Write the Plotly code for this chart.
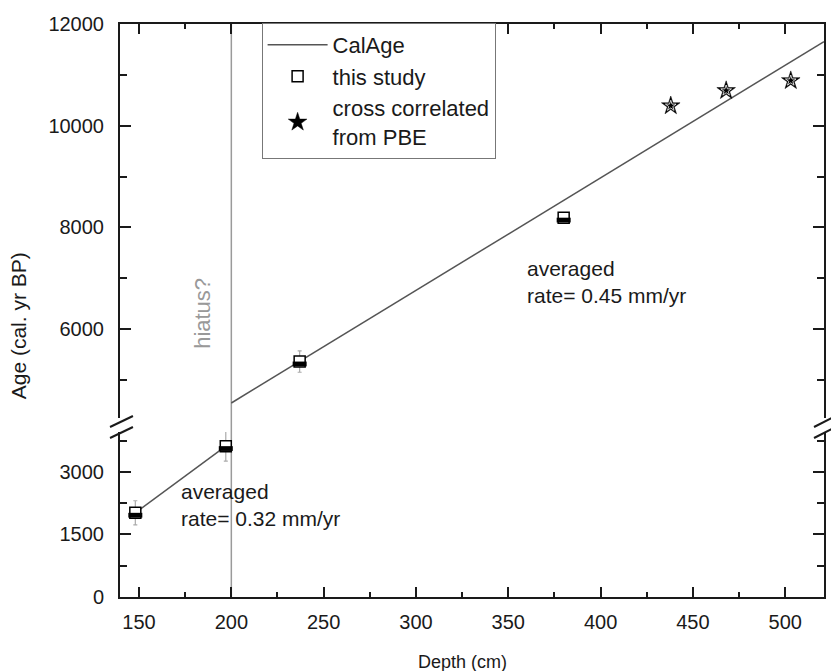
import plotly.graph_objects as go

# ---------------- data ----------------
depth_this = [148, 197, 237, 380]
age_this = [2020, 3620, 5360, 8190]
err_this = [290, 360, 210, 60]

depth_pbe = [438, 468, 503]
age_pbe = [10390, 10690, 10885]

calage_low_depth = [148, 197]
calage_low_age = [2020, 3620]
calage_up_depth = [200, 521]
calage_up_age = [4545, 11655]

hiatus_depth = 200

x_range = [139.7, 521]
low_range = [0, 3960]
up_range = [4250, 12000]
low_ticks = [0, 1500, 3000]
up_ticks = [6000, 8000, 10000, 12000]
x_ticks = [150, 200, 250, 300, 350, 400, 450, 500]

# ---------------- layout geometry ----------------
W, H = 831, 671
ML, MR, MT, MB = 120, 5, 24, 74
PH = H - MT - MB
PW = W - ML - MR
low_dom = [0, 0.288]
up_dom = [0.3124, 1]
px_low = PH * (low_dom[1] - low_dom[0]) / (low_range[1] - low_range[0])
px_up = PH * (up_dom[1] - up_dom[0]) / (up_range[1] - up_range[0])

FONT = "Liberation Sans, Arial, sans-serif"
INK = "#1a1a1a"

lo_idx = [i for i, v in enumerate(age_this) if v < low_range[1]]
hi_idx = [i for i, v in enumerate(age_this) if v >= low_range[1]]

fig = go.Figure()

# CalAge lines
fig.add_trace(go.Scatter(x=calage_low_depth, y=calage_low_age, mode="lines",
                         line=dict(color="#555", width=1.5), name="CalAge",
                         xaxis="x", yaxis="y", showlegend=True))
fig.add_trace(go.Scatter(x=calage_up_depth, y=calage_up_age, mode="lines",
                         line=dict(color="#555", width=1.5), name="CalAge",
                         xaxis="x2", yaxis="y2", showlegend=False))

# this study (white square + black lower half)
for idx, xa, ya, pxu, first in [(lo_idx, "x", "y", px_low, True), (hi_idx, "x2", "y2", px_up, False)]:
    xs = [depth_this[i] for i in idx]
    ys = [age_this[i] for i in idx]
    es = [err_this[i] for i in idx]
    fig.add_trace(go.Scatter(
        x=xs, y=ys, mode="markers", name="this study",
        marker=dict(symbol="square", size=11, color="white", line=dict(color="black", width=1.5)),
        error_y=dict(type="data", array=es, color="#aaaaaa", thickness=1.2, width=2),
        xaxis=xa, yaxis=ya, showlegend=first))
    fig.add_trace(go.Scatter(
        x=xs, y=[v - 2.4 / pxu for v in ys], mode="markers",
        marker=dict(symbol="line-ew", size=10, color="black", line=dict(color="black", width=4.8)),
        xaxis=xa, yaxis=ya, showlegend=False, hoverinfo="skip"))

# cross correlated stars
fig.add_trace(go.Scatter(x=depth_pbe, y=age_pbe, mode="markers",
                         name="cross correlated<br>from PBE",
                         marker=dict(symbol="star", size=14, color="black", line=dict(color="black", width=0.5)),
                         xaxis="x2", yaxis="y2"))
fig.add_trace(go.Scatter(x=depth_pbe, y=age_pbe, mode="markers",
                         marker=dict(symbol="star-open", size=8, color="white", line=dict(color="white", width=0.8)),
                         xaxis="x2", yaxis="y2", showlegend=False, hoverinfo="skip"))

axis_common = dict(showline=True, linecolor=INK, linewidth=2, ticks="inside",
                   tickcolor=INK, tickwidth=2, showgrid=False, zeroline=False,
                   tickformat="d",
                   tickfont=dict(family=FONT, size=20, color=INK))

fig.update_layout(
    width=W, height=H, margin=dict(l=ML, r=MR, t=MT, b=MB),
    paper_bgcolor="white", plot_bgcolor="white",
    font=dict(family=FONT, color=INK),
    xaxis=dict(range=x_range, domain=[0, 1], anchor="y", tickvals=x_ticks, ticklen=10,
               minor=dict(ticks="inside", dtick=25, tick0=150, ticklen=5, tickcolor=INK, tickwidth=2),
               ticklabelstandoff=6, **axis_common),
    xaxis2=dict(range=x_range, domain=[0, 1], anchor="y2", side="top", matches="x",
                showticklabels=False, tickvals=x_ticks, ticklen=10,
                minor=dict(ticks="inside", dtick=25, tick0=150, ticklen=5, tickcolor=INK, tickwidth=2),
                **axis_common),
    yaxis=dict(range=low_range, domain=low_dom, anchor="x", tickvals=low_ticks, ticklen=11,
               mirror="ticks",
               minor=dict(ticks="inside", dtick=750, tick0=0, ticklen=7, tickcolor=INK, tickwidth=2),
               ticklabelstandoff=10, **axis_common),
    yaxis2=dict(range=up_range, domain=up_dom, anchor="x2", tickvals=up_ticks, ticklen=11,
                mirror="ticks",
                minor=dict(ticks="inside", dtick=1000, tick0=0, ticklen=7, tickcolor=INK, tickwidth=2),
                ticklabelstandoff=10, **axis_common),
    legend=dict(x=(262 - ML) / PW, y=1.002, xanchor="left", yanchor="top",
                bgcolor="white", bordercolor="#777", borderwidth=1,
                font=dict(family=FONT, size=22, color=INK), itemwidth=60,
                tracegroupgap=0),
    showlegend=True,
)

# hiatus vertical line
fig.add_shape(type="line", xref="x", yref="paper", x0=hiatus_depth, x1=hiatus_depth, y0=0, y1=1,
              line=dict(color="#9a9a9a", width=1.5), layer="below")

def px2paper_y(py):
    return (H - MB - py) / PH

def px2paper_x(px):
    return (px - ML) / PW

# axis break marks
for (x0, y0, x1, y1) in [(110, 427, 133, 416), (110, 438, 133, 427),
                         (816, 427, 838, 416), (816, 438, 838, 427)]:
    fig.add_shape(type="line", xref="paper", yref="paper",
                  x0=px2paper_x(x0), y0=px2paper_y(y0), x1=px2paper_x(x1), y1=px2paper_y(y1),
                  line=dict(color=INK, width=2))

# annotations
fig.add_annotation(text="hiatus?", x=184.6, y=6316, xref="x2", yref="y2", textangle=-90,
                   showarrow=False, font=dict(family=FONT, size=22, color="#999"))
fig.add_annotation(text="averaged<br>rate= 0.32 mm/yr", x=171.6, y=2856, xref="x", yref="y",
                   xanchor="left", yanchor="top", align="left", showarrow=False,
                   font=dict(family=FONT, size=21, color=INK))
fig.add_annotation(text="averaged<br>rate= 0.45 mm/yr", x=358.8, y=7456, xref="x2", yref="y2",
                   xanchor="left", yanchor="top", align="left", showarrow=False,
                   font=dict(family=FONT, size=21, color=INK))
fig.add_annotation(text="Age (cal. yr BP)", x=px2paper_x(18), y=px2paper_y(326), xref="paper", yref="paper",
                   xanchor="center", yanchor="middle",
                   textangle=-90, showarrow=False, font=dict(family=FONT, size=21, color=INK))
fig.add_annotation(text="Depth (cm)", x=px2paper_x(463), y=px2paper_y(662), xref="paper", yref="paper",
                   xanchor="center", yanchor="middle",
                   showarrow=False, font=dict(family=FONT, size=18, color=INK))

fig.write_html("out.html")
